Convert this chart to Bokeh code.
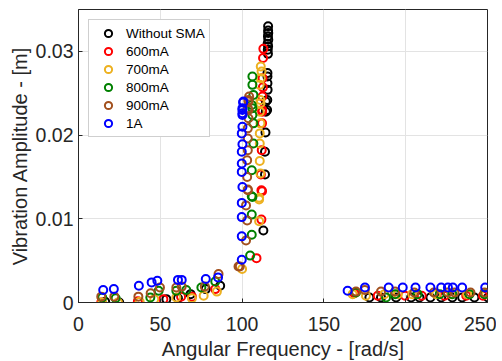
from bokeh.plotting import figure
from bokeh.models import Range1d, FixedTicker, Legend, LegendItem
from bokeh.embed import file_html
from bokeh.resources import INLINE

# ---- data ----
series_names = ["Without SMA", "600mA", "700mA", "800mA", "900mA", "1A"]
series_colors = ["#000000", "#ff0000", "#edb120", "#008000", "#a2501e", "#0000ff"]

x_none = [16.3, 24.9, 53.7, 60.8, 68.5, 77.8, 86.6,
          115.9, 115.9, 116.0, 115.8, 116.0, 115.6, 115.9, 115.7, 115.8,
          115.5, 115.5, 115.5, 115.6, 115.4, 115.3, 114.5, 114.5, 114.3, 114.0, 114.0, 113.0,
          177.8, 184.9, 194.1, 203.3, 208.4, 215.1, 221.7, 228.5, 234.5, 242.0, 250.3]
y_none = [0.0001, 0.0, 0.0004, 0.0005, 0.001, 0.0016, 0.002,
          0.0330, 0.0325, 0.0322, 0.0318, 0.0314, 0.0309, 0.0306, 0.0302, 0.0297,
          0.0274, 0.0270, 0.0262, 0.0254, 0.0242, 0.0230, 0.0240, 0.0228, 0.0203, 0.0180, 0.0153, 0.0086,
          0.0006, 0.0006, 0.0006, 0.0006, 0.0006, 0.0006, 0.0006, 0.0006, 0.0006, 0.0006, 0.0006]

x_600 = [13.9, 36.3, 51.9, 62.7, 69.3, 83.6,
         113.0, 112.8, 112.5, 112.7, 112.4, 112.3, 112.3, 112.2, 112.0, 111.5, 111.8, 112.2, 111.8, 108.8,
         168.6, 182.9, 199.6, 209.8, 223.7, 237.0, 247.2]
y_600 = [0.0, 0.00015, 0.0004, 0.0007, 0.0007, 0.0016,
         0.0303, 0.0292, 0.0268, 0.0257, 0.0246, 0.0228, 0.0230, 0.0214, 0.0182, 0.0153, 0.0134, 0.0133, 0.0099, 0.0053,
         0.0011, 0.0008, 0.0008, 0.0008, 0.0008, 0.0008, 0.0008]

x_700 = [14.5, 24.1, 37.4, 46.3, 59.8, 69.3, 76.5, 84.6,
         111.4, 111.9, 111.4, 110.8, 111.2, 110.8, 111.2, 111.2, 110.8, 110.8, 110.8, 111.2, 110.4, 110.4, 110.4, 100.0,
         167.6, 175.7, 187.0, 195.2, 204.0, 218.6, 227.8, 237.6, 249.2]
y_700 = [0.0, 0.0, 0.0001, 0.0004, 0.0006, 0.0005, 0.0008, 0.0013,
         0.0282, 0.0276, 0.0268, 0.0260, 0.0242, 0.0228, 0.0238, 0.0214, 0.0202, 0.0190, 0.0169, 0.0154, 0.0125, 0.0123, 0.0097, 0.0040,
         0.0010, 0.0008, 0.0010, 0.0010, 0.0010, 0.0010, 0.0010, 0.0010, 0.0010]

x_800 = [14.5, 22.7, 43.9, 49.0, 59.8, 65.9, 75.1, 83.6,
         106.3, 106.3, 106.9, 105.9, 106.3, 106.3, 106.9, 106.9, 105.9, 106.3, 105.9, 105.9, 105.9, 104.9,
         169.6, 188.0, 193.5, 207.2, 220.8, 228.5, 239.0, 248.2]
y_800 = [0.0006, 0.0005, 0.0006, 0.0014, 0.0014, 0.0015, 0.0018, 0.0025,
         0.0270, 0.0260, 0.0248, 0.0236, 0.0232, 0.0224, 0.0214, 0.0190, 0.0158, 0.0126, 0.0127, 0.0105, 0.0081, 0.0056,
         0.0012, 0.0006, 0.0010, 0.0010, 0.0010, 0.0010, 0.0010, 0.0010]

x_900 = [13.9, 21.9, 36.6, 44.1, 49.8, 59.8, 63.1, 77.2, 85.6, 97.8,
         104.3, 103.9, 103.9, 103.9, 103.5, 103.9, 103.5, 103.5, 103.5, 103.1, 103.1, 103.5, 103.5, 102.4, 103.1, 102.4, 98.6,
         169.6, 175.0, 184.9, 193.5, 205.3, 217.2, 225.8, 229.8, 239.6, 248.2]
y_900 = [0.0007, 0.0007, 0.0007, 0.0011, 0.0018, 0.0018, 0.0019, 0.0019, 0.0034, 0.0043,
         0.0246, 0.0242, 0.0230, 0.0240, 0.0232, 0.0220, 0.0208, 0.0196, 0.0182, 0.0170, 0.0150, 0.0135, 0.0134, 0.0116, 0.0098, 0.0074, 0.0043,
         0.0013, 0.0015, 0.0013, 0.0013, 0.0012, 0.0012, 0.0012, 0.0012, 0.0012, 0.0012]

x_1a = [15.1, 21.6, 36.9, 44.7, 48.2, 60.8, 63.1, 77.8, 85.3,
        100.8, 100.2, 100.2, 100.6, 100.2, 100.2, 100.2, 99.8, 100.2, 99.8, 99.8, 99.8, 100.2, 99.8, 99.8, 99.8, 99.8,
        164.5, 175.1, 189.6, 198.2, 206.0, 215.1, 221.7, 225.8, 228.8, 234.5, 248.6]
y_1a = [0.0015, 0.0016, 0.0020, 0.0024, 0.0026, 0.0027, 0.0027, 0.0028, 0.0030,
        0.0240, 0.0232, 0.0226, 0.0239, 0.0230, 0.0224, 0.0210, 0.0202, 0.0189, 0.0180, 0.0166, 0.0156, 0.0138, 0.0119, 0.0102, 0.0079, 0.0051,
        0.0014, 0.0018, 0.0018, 0.0018, 0.0018, 0.0018, 0.0018, 0.0018, 0.0018, 0.0018, 0.0018]

xs = [x_none, x_600, x_700, x_800, x_900, x_1a]
ys = [y_none, y_600, y_700, y_800, y_900, y_1a]

x_ticks = [0, 50, 100, 150, 200, 250]
y_ticks = [0, 0.01, 0.02, 0.03]

FONT = "Liberation Sans"
AX = "#262626"

p = figure(frame_width=409, frame_height=293, output_backend="svg", toolbar_location=None,
           x_range=Range1d(0, 250), y_range=Range1d(0, 0.035),
           min_border_left=78, min_border_right=9, min_border_top=9, min_border_bottom=0)
p.background_fill_color = "white"
p.outline_line_color = AX
p.outline_line_width = 1

renderers = []
for xv, yv, c in zip(xs, ys, series_colors):
    r = p.scatter(xv, yv, marker="circle", size=8, fill_color=None, line_color=c, line_width=2)
    renderers.append(r)

for ax in (p.xaxis[0], p.yaxis[0]):
    ax.major_tick_in = 4
    ax.major_tick_out = 0
    ax.minor_tick_in = 0
    ax.minor_tick_out = 0
    ax.axis_line_color = AX
    ax.major_tick_line_color = AX
    ax.major_label_text_color = AX
    ax.major_label_text_font = FONT
    ax.major_label_text_font_size = "19.5px"
    ax.axis_label_text_font = FONT
    ax.axis_label_text_font_size = "20px"
    ax.axis_label_text_font_style = "normal"
    ax.axis_label_text_color = AX

p.xaxis[0].ticker = FixedTicker(ticks=x_ticks)
p.yaxis[0].ticker = FixedTicker(ticks=y_ticks)
p.xaxis[0].major_label_overrides = {0: "0", 50: "50", 100: "100", 150: "150", 200: "200", 250: "250"}
p.yaxis[0].major_label_overrides = {0: "0", 0.01: "0.01", 0.02: "0.02", 0.03: "0.03"}
p.xaxis[0].axis_label = "Angular Frequency - [rad/s]"
p.yaxis[0].axis_label = "Vibration Amplitude - [m]"
p.xaxis[0].major_label_standoff = 14
p.yaxis[0].major_label_standoff = 5
p.xaxis[0].axis_label_standoff = 4
p.yaxis[0].axis_label_standoff = 2

p.xgrid[0].ticker = FixedTicker(ticks=x_ticks)
p.ygrid[0].ticker = FixedTicker(ticks=y_ticks)
p.xgrid.grid_line_color = "#e3e3e3"
p.ygrid.grid_line_color = "#e3e3e3"

legend = Legend(items=[LegendItem(label=n, renderers=[r]) for n, r in zip(series_names, renderers)],
                location="top_left")
legend.label_text_font = FONT
legend.label_text_font_size = "13.5px"
legend.label_text_color = "#000000"
legend.border_line_color = "#a0a0a0"
legend.border_line_width = 1
legend.background_fill_alpha = 1
legend.spacing = 0
legend.padding = 4
legend.margin = 10
legend.glyph_width = 30
legend.glyph_height = 18
legend.label_standoff = 3
legend.label_height = 18
p.add_layout(legend)

open("out.html", "w").write(file_html(p, INLINE))
